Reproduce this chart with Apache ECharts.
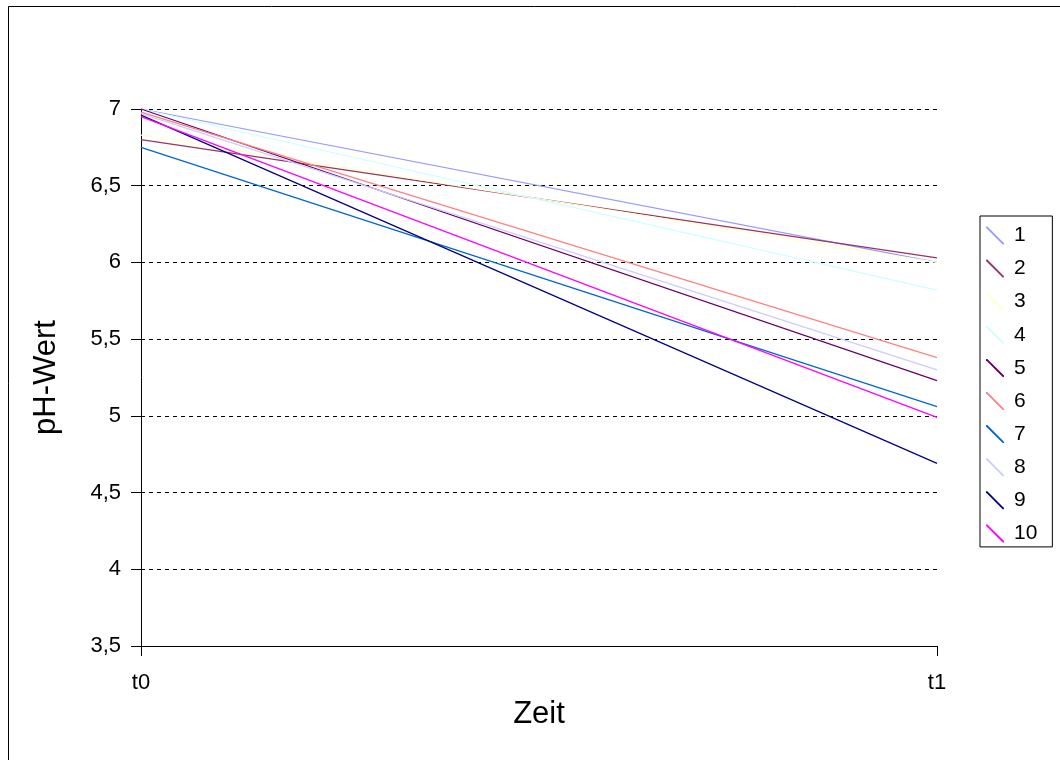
<!DOCTYPE html>
<html>
<head>
<meta charset="utf-8">
<script src="https://cdn.jsdelivr.net/npm/echarts@6/dist/echarts.min.js"></script>
<style>
  html, body { margin: 0; padding: 0; background: #fff; }
  #chart { width: 1060px; height: 760px; }
</style>
</head>
<body>
<div id="chart"></div>
<script>
// Zeitpunkte
const categories = ['t0', 't1'];

// pH-Werte der Proben 1–10 zu t0 und t1
const probe1 = [7.00, 6.00];
const probe2 = [6.80, 6.03];
const probe3 = [6.83, 6.00];
const probe4 = [7.00, 5.82];
const probe5 = [7.00, 5.23];
const probe6 = [6.98, 5.38];
const probe7 = [6.75, 5.06];
const probe8 = [6.97, 5.30];
const probe9 = [6.96, 4.69];
const probe10 = [6.95, 4.99];

const seriesNames = ['1', '2', '3', '4', '5', '6', '7', '8', '9', '10'];
const seriesValues = [probe1, probe2, probe3, probe4, probe5, probe6, probe7, probe8, probe9, probe10];
const seriesColors = ['#9999FF', '#993366', '#FFFFCC', '#CCFFFF', '#660066',
                      '#FF8080', '#0066CC', '#CCCCFF', '#000080', '#FF00FF'];

const FONT = '"Liberation Sans", Arial, sans-serif';

const chart = echarts.init(document.getElementById('chart'), null, { renderer: 'canvas' });

chart.setOption({
  backgroundColor: '#ffffff',
  animation: false,
  textStyle: { fontFamily: FONT, color: '#000' },
  grid: { left: 141, right: 123, top: 109, bottom: 114, containLabel: false },
  xAxis: {
    type: 'category',
    data: categories,
    boundaryGap: false,
    name: 'Zeit',
    nameLocation: 'middle',
    nameGap: 50,
    nameTextStyle: { fontSize: 31, color: '#000', fontFamily: FONT },
    axisLine: { lineStyle: { color: '#000', width: 1 } },
    axisTick: { show: true, length: 10, lineStyle: { color: '#000' } },
    axisLabel: { fontSize: 22, color: '#000', margin: 26, fontFamily: FONT },
    splitLine: { show: false }
  },
  yAxis: {
    type: 'value',
    min: 3.5,
    max: 7,
    interval: 0.5,
    name: 'pH-Wert',
    nameLocation: 'middle',
    nameGap: 79,
    nameRotate: 90,
    nameTextStyle: { fontSize: 31, color: '#000', fontFamily: FONT },
    axisLine: { show: true, lineStyle: { color: '#000', width: 1 } },
    axisTick: { show: true, length: 10, lineStyle: { color: '#000' } },
    axisLabel: {
      fontSize: 22, color: '#000', margin: 20, fontFamily: FONT,
      formatter: v => String(v).replace('.', ',')
    },
    splitLine: { show: true, lineStyle: { color: '#000', type: [4, 4], width: 1 } }
  },
  legend: {
    orient: 'vertical',
    left: 980,
    top: 216,
    padding: [9, 15, 3, 6],
    itemGap: 12.1,
    itemWidth: 18,
    itemHeight: 20,
    borderColor: '#000',
    borderWidth: 1,
    textStyle: { fontSize: 21, color: '#000', fontFamily: FONT, padding: [0, 0, 0, 5] },
    data: seriesNames.map((n, i) => ({
      name: n,
      icon: 'path://M0,0 L1.3,0 L18,16.7 L18,18 L16.7,18 L0,1.3 Z',
      itemStyle: { color: seriesColors[i] }
    }))
  },
  graphic: [
    { type: 'line', shape: { x1: 8.5, y1: 6.5, x2: 1060, y2: 6.5 }, style: { stroke: '#000', lineWidth: 1 } },
    { type: 'line', shape: { x1: 8.5, y1: 6.5, x2: 8.5, y2: 760 }, style: { stroke: '#000', lineWidth: 1 } }
  ],
  series: seriesNames.map((n, i) => ({
    name: n,
    type: 'line',
    data: seriesValues[i],
    symbol: 'none',
    lineStyle: { color: seriesColors[i], width: 1.2 },
    itemStyle: { color: seriesColors[i] },
    emphasis: { disabled: true }
  }))
});
</script>
</body>
</html>
